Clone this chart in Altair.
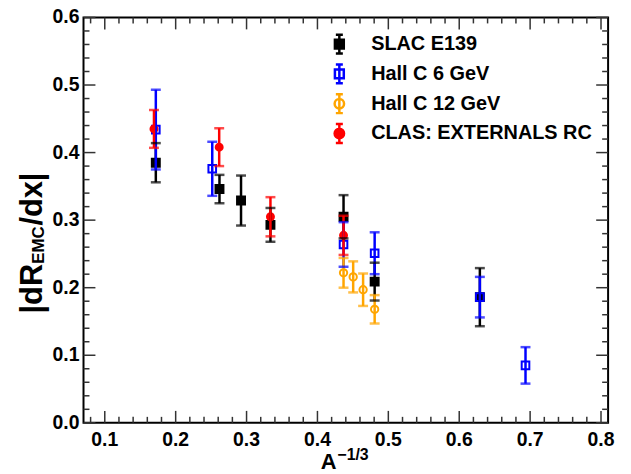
import altair as alt
import pandas as pd

# ---------------- data ----------------
series_names = ["SLAC E139", "Hall C 6 GeV", "Hall C 12 GeV", "CLAS: EXTERNALS RC"]
series_colors = ["#000000", "#0000ff", "#ffa500", "#ff0000"]
series_fills = ["#000000", "transparent", "transparent", "#ff0000"]

slac_x = [0.172, 0.2618, 0.2922, 0.3337, 0.4368, 0.4807, 0.6291]
slac_y = [0.385, 0.346, 0.329, 0.293, 0.305, 0.209, 0.186]
slac_err = [0.029, 0.021, 0.037, 0.025, 0.032, 0.028, 0.043]

hallc6_x = [0.172, 0.2516, 0.4368, 0.4807, 0.6291, 0.6935]
hallc6_y = [0.434, 0.376, 0.264, 0.251, 0.186, 0.085]
hallc6_err = [0.059, 0.040, 0.033, 0.031, 0.030, 0.027]

hallc12_x = [0.4368, 0.4504, 0.4644, 0.4807]
hallc12_y = [0.222, 0.216, 0.197, 0.168]
hallc12_err = [0.022, 0.023, 0.024, 0.021]

clas_x = [0.1694, 0.2614, 0.3337, 0.4368]
clas_y = [0.435, 0.408, 0.305, 0.2775]
clas_err = [0.028, 0.028, 0.029, 0.029]

x_major = [0.1, 0.2, 0.3, 0.4, 0.5, 0.6, 0.7, 0.8]
y_major = [0.0, 0.1, 0.2, 0.3, 0.4, 0.5, 0.6]
x_minor = [0.08, 0.12, 0.14, 0.16, 0.18, 0.22, 0.24, 0.26, 0.28, 0.32, 0.34, 0.36, 0.38,
           0.42, 0.44, 0.46, 0.48, 0.52, 0.54, 0.56, 0.58, 0.62, 0.64, 0.66, 0.68,
           0.72, 0.74, 0.76, 0.78]
y_minor = [0.02, 0.04, 0.06, 0.08, 0.12, 0.14, 0.16, 0.18, 0.22, 0.24, 0.26, 0.28,
           0.32, 0.34, 0.36, 0.38, 0.42, 0.44, 0.46, 0.48, 0.52, 0.54, 0.56, 0.58]
x_range = [0.07, 0.81]
y_range = [0.0, 0.6]

# ---------------- tables ----------------
frames = []
for name, xs_, ys_, es_ in zip(series_names,
                               [slac_x, hallc6_x, hallc12_x, clas_x],
                               [slac_y, hallc6_y, hallc12_y, clas_y],
                               [slac_err, hallc6_err, hallc12_err, clas_err]):
    d = pd.DataFrame({"x": xs_, "y": ys_, "err": es_})
    d["series"] = name
    frames.append(d)
df = pd.concat(frames, ignore_index=True)
df["lo"] = df["y"] - df["err"]
df["hi"] = df["y"] + df["err"]

xtick_df = pd.DataFrame({"tv": x_major + x_minor,
                         "major": [True] * len(x_major) + [False] * len(x_minor)})
ytick_df = pd.DataFrame({"tv": y_major + y_minor,
                         "major": [True] * len(y_major) + [False] * len(y_minor)})

W, H = 528, 408
FONT = "Liberation Sans"
TICK = "#333333"

xs = alt.Scale(domain=x_range, nice=False, zero=False)
ys = alt.Scale(domain=y_range, nice=False, zero=False)
color_scale = alt.Scale(domain=series_names, range=series_colors)
fill_scale = alt.Scale(domain=series_names, range=series_fills)


# ---------------- inward frame ticks and tick labels (ROOT style) ----------------
def x_ticks(major, p0, p1):
    return alt.Chart(xtick_df).transform_filter(
        "datum.major" if major else "!datum.major"
    ).mark_rule(strokeWidth=1.5, color=TICK).encode(
        x=alt.X("tv:Q", scale=xs, axis=None),
        y=alt.value(p0), y2=alt.value(p1),
    )


def y_ticks(major, p0, p1):
    return alt.Chart(ytick_df).transform_filter(
        "datum.major" if major else "!datum.major"
    ).mark_rule(strokeWidth=1.5, color=TICK).encode(
        y=alt.Y("tv:Q", scale=ys, axis=None),
        x=alt.value(p0), x2=alt.value(p1),
    )


frame_ticks = [
    x_ticks(True, H, H - 12), x_ticks(False, H, H - 6),
    x_ticks(True, 0, 12), x_ticks(False, 0, 6),
    y_ticks(True, 0, 12), y_ticks(False, 0, 6),
    y_ticks(True, W, W - 12), y_ticks(False, W, W - 6),
]

x_labels = alt.Chart(xtick_df).transform_filter("datum.major").transform_calculate(
    lab="format(datum.tv, '.1f')"
).mark_text(font=FONT, fontWeight="bold", fontSize=19.5, align="center",
            baseline="top", color="black").encode(
    x=alt.X("tv:Q", scale=xs, axis=None), y=alt.value(H + 8), text="lab:N")

y_labels = alt.Chart(ytick_df).transform_filter("datum.major").transform_calculate(
    lab="format(datum.tv, '.1f')"
).mark_text(font=FONT, fontWeight="bold", fontSize=19.5, align="right",
            baseline="middle", color="black").encode(
    y=alt.Y("tv:Q", scale=ys, axis=None), x=alt.value(-4), text="lab:N")

base = alt.Chart(df)

# markers
points = base.mark_point(filled=False, strokeWidth=2, opacity=1).encode(
    x=alt.X("x:Q", scale=xs, axis=None),
    y=alt.Y("y:Q", scale=ys, axis=None),
    color=alt.Color("series:N", scale=color_scale, legend=None),
    fill=alt.Fill("series:N", legend=None, scale=fill_scale),
    shape=alt.Shape("series:N", legend=None,
                    scale=alt.Scale(domain=series_names,
                                    range=["square", "square", "circle", "circle"])),
    size=alt.Size("series:N", legend=None,
                  scale=alt.Scale(domain=series_names, range=[64, 49, 64, 64])),
)

# error bars
rules = base.mark_rule(strokeWidth=2.5).encode(
    x=alt.X("x:Q", scale=xs, axis=None),
    y=alt.Y("lo:Q", scale=ys, axis=None),
    y2="hi:Q",
    color=alt.Color("series:N", scale=color_scale, legend=None),
)

# caps
caps = base.transform_fold(["lo", "hi"], as_=["end", "val"]).mark_tick(
    orient="horizontal", size=10, thickness=2.5
).encode(
    x=alt.X("x:Q", scale=xs, axis=None),
    y=alt.Y("val:Q", scale=ys, axis=None),
    color=alt.Color("series:N", scale=color_scale, legend=None),
)

# legend symbols: marker with error bar
sq = "M0,-1V1M-0.37,-1H0.37M-0.37,1H0.37M-0.47,-0.47H0.47V0.47H-0.47Z"
ci = ("M0,-1V1M-0.37,-1H0.37M-0.37,1H0.37"
      "M0.5,0A0.5,0.5 0 1,1 -0.5,0A0.5,0.5 0 1,1 0.5,0Z")

legend_layer = base.transform_filter("false").mark_point(filled=False, strokeWidth=2.5, opacity=1).encode(
    x=alt.X("x:Q", scale=xs, axis=None),
    y=alt.Y("y:Q", scale=ys, axis=None),
    color=alt.Color("series:N", scale=color_scale,
                    legend=alt.Legend(orient="none", legendX=246.5, legendY=15.8, title=None,
                                      labelFont=FONT, labelFontWeight="bold", labelFontSize=20,
                                      labelColor="black", labelLimit=0, symbolSize=361,
                                      symbolStrokeWidth=2.5, labelOffset=21, rowPadding=0,
                                      padding=0, symbolOpacity=1)),
    fill=alt.Fill("series:N", scale=fill_scale),
    shape=alt.Shape("series:N", scale=alt.Scale(domain=series_names, range=[sq, sq, ci, ci])),
)


def label(text, x, y, size, angle=0):
    return alt.Chart(pd.DataFrame({"t": [text]})).mark_text(
        font=FONT, fontWeight="bold", fontSize=size, align="left",
        baseline="alphabetic", angle=angle, color="black"
    ).encode(x=alt.value(x), y=alt.value(y), text="t:N")


titles = [
    label("|dR", -42, 298, 31, 270),
    label("EMC", -40, 248, 17, 270),
    label("/dx|", -42, 209.5, 31, 270),
    label("A", 238.7, 454.5, 22),
    label("\u22121/3", 255.5, 445.3, 16),
]

chart = alt.layer(points, rules, caps, legend_layer, *frame_ticks, x_labels, y_labels,
                  *titles).resolve_scale(
    color="independent", shape="independent", fill="independent"
).properties(
    width=W, height=H,
    autosize=alt.AutoSizeParams(type="none"),
    padding={"left": 76, "top": 8, "right": 15, "bottom": 50},
).configure_view(
    stroke="black", strokeWidth=2
)

chart.save("out.html", embed_options={"renderer": "svg", "actions": False})
